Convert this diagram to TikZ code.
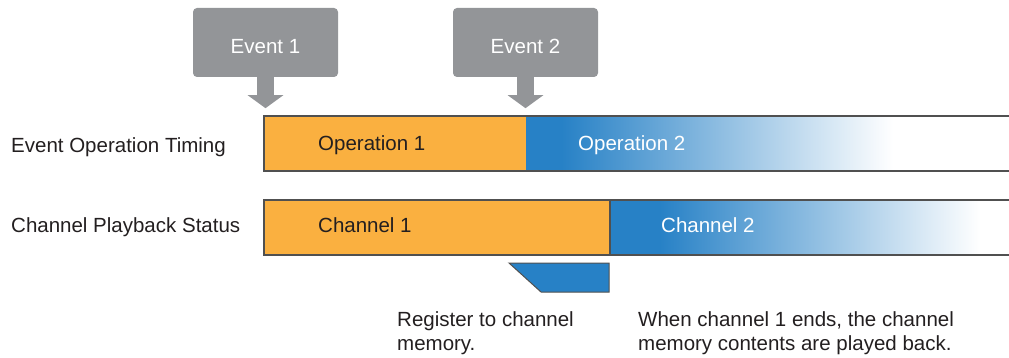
\documentclass[tikz,border=0pt]{standalone}
\usepackage{fontspec}
\setmainfont{Liberation Sans}
\usetikzlibrary{arrows.meta, positioning}
\definecolor{evgray}{RGB}{147,149,152}
\definecolor{oporange}{RGB}{250,176,64}
\definecolor{opblue}{RGB}{39,129,198}
\definecolor{opmid}{RGB}{136,168,218}
\definecolor{edgegray}{RGB}{80,80,80}
\definecolor{txtdark}{RGB}{35,31,32}

\begin{document}
\begin{tikzpicture}[x=1pt, y=-1pt,
    every node/.style={font=\fontsize{20.5}{23.5}\selectfont, text=txtdark, inner sep=0pt},
    evbox/.style={rectangle, rounded corners=4pt, fill=evgray, text=white,
                  text height=23pt, text depth=0pt,
                  minimum width=145pt, minimum height=69pt},
    evarrow/.style={evgray, line width=17pt, -{Triangle[length=13pt, width=35pt]}},
    barfill/.style={rectangle, anchor=north west, outer sep=0pt, minimum height=55pt},
    barline/.style={edgegray, line width=1.2pt},
    lbl/.style={anchor=base west, align=left}
]
    \useasboundingbox (0,0) rectangle (1009,358);

    % events
    \node[evbox] (ev1) at (265.5,42.5) {Event 1};
    \node[evbox] (ev2) at (525.5,42.5) {Event 2};
    \draw[evarrow] (ev1.south) -- ++(0,31);
    \draw[evarrow] (ev2.south) -- ++(0,31);

    % row labels
    \node[lbl] (rowop) at (11,153) {Event Operation Timing};
    \node[lbl] (rowch) at (11,233) {Channel Playback Status};

    % operation bar
    \node[barfill, fill=oporange, minimum width=262pt] (op1) at (264,116) {};
    \node[barfill, fill=opblue, minimum width=36pt, right=0pt of op1] (op2) {};
    \shade[left color=opblue, middle color=opmid, right color=white]
        ([xshift=-0.5pt]op2.north east) rectangle (893,171);
    \draw[barline] (1009,116) -- (264,116) -- (264,171) -- (1009,171);
    \node[lbl] (op1txt) at (318,151) {Operation 1};
    \node[lbl, text=white] (op2txt) at (578,151) {Operation 2};

    % channel bar
    \node[barfill, fill=oporange, minimum width=346pt] (ch1) at (264,200) {};
    \node[barfill, fill=opblue, minimum width=50pt, right=0pt of ch1] (ch2) {};
    \shade[left color=opblue, middle color=opmid, right color=white]
        ([xshift=-0.5pt]ch2.north east) rectangle (980,255);
    \draw[barline] (1009,200) -- (264,200) -- (264,255) -- (1009,255);
    \draw[barline] (ch1.north east) -- (ch1.south east);
    \node[lbl] (ch1txt) at (318,233) {Channel 1};
    \node[lbl, text=white] (ch2txt) at (661,233) {Channel 2};

    % channel memory
    \draw[fill=opblue, draw=edgegray, line width=1pt]
        (509,263) -- (609,263) -- (609,292) -- (541,292) -- cycle;
    \node[lbl] (regtxt) at (397,350) {Register to channel\\memory.};
    \node[lbl] (playtxt) at (638,350) {When channel 1 ends, the channel\\memory contents are played back.};
\end{tikzpicture}
\end{document}
